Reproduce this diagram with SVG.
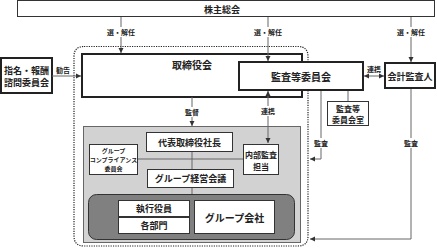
<svg xmlns="http://www.w3.org/2000/svg" width="437" height="248" viewBox="0 0 437 248">
<defs>
<marker id="ah" markerWidth="6" markerHeight="6" refX="5" refY="3" orient="auto" markerUnits="userSpaceOnUse">
<path d="M0,0.5 L5,3 L0,5.5 z" fill="#333"/>
</marker>
<marker id="as" markerWidth="6" markerHeight="6" refX="0" refY="3" orient="auto" markerUnits="userSpaceOnUse">
<path d="M5,0.5 L0,3 L5,5.5 z" fill="#333"/>
</marker>
</defs>
<style>
text{font-family:"Noto Sans CJK JP","Noto Sans",sans-serif;font-weight:bold;fill:#222;text-anchor:middle;dominant-baseline:central}
.box{fill:#fff;stroke:#333;stroke-width:1}
.thick{fill:#fff;stroke:#222;stroke-width:2}
.ln{fill:none;stroke:#666;stroke-width:1}
.lbl{font-size:7px}
.t8{font-size:8px}
.t9{font-size:9px}
.t10{font-size:10px}
</style>
<rect x="0" y="0" width="437" height="248" fill="#fff"/>
<g id="outer-dotted">
<path d="M84,46.5 L298,46.5 Q308,46.5 308,56.5 L308,236 Q308,246 298,246 L84,246 Q74,246 74,236 L74,56.5 Q74,46.5 84,46.5 Z" fill="none" stroke="#222" stroke-width="1.2" stroke-dasharray="1.2,1.2"/>
</g>
<g id="kabunushi"><rect class="box" x="17.5" y="0.5" width="417" height="16"/><text class="t9" x="222" y="9">株主総会</text></g>
<g id="torishimari"><rect class="thick" x="82" y="54" width="220" height="43"/><text class="t10" x="192" y="64">取締役会</text></g>
<g id="shimei"><rect class="thick" x="1" y="58" width="51" height="35"/><text class="t9" x="26.5" y="70">指名・報酬</text><text class="t9" x="26.5" y="82">諮問委員会</text></g>
<g id="gray-area"><rect x="83.5" y="126.5" width="217" height="116" fill="#d2d2d2" stroke="#666"/></g>
<g id="dark-area"><rect x="88.5" y="194.5" width="206" height="45" rx="8" fill="#808080" stroke="#333"/></g>
<g id="connectors">
<line class="ln" x1="121" y1="17" x2="121" y2="53" marker-end="url(#ah)"/>
<line class="ln" x1="268" y1="17" x2="268" y2="61" marker-end="url(#ah)"/>
<line class="ln" x1="411" y1="17" x2="411" y2="62" marker-end="url(#ah)"/>
<line class="ln" x1="52" y1="76" x2="81" y2="76" marker-end="url(#ah)"/>
<line class="ln" x1="192" y1="97" x2="192" y2="126" marker-end="url(#ah)"/>
<line class="ln" x1="268" y1="91" x2="268" y2="143" marker-start="url(#as)" marker-end="url(#ah)"/>
<line class="ln" x1="364" y1="76" x2="384" y2="76" marker-start="url(#as)" marker-end="url(#ah)"/>
<line class="ln" x1="348" y1="90" x2="348" y2="101"/>
<polyline class="ln" points="321,90 321,159 310,159" marker-end="url(#ah)"/>
<polyline class="ln" points="411,88 411,239 310,239" marker-end="url(#ah)"/>
<line class="ln" x1="192" y1="151" x2="192" y2="194"/>
<line class="ln" x1="137" y1="159" x2="243" y2="159"/>
<rect x="105" y="27" width="32" height="10" fill="#fff"/><text class="lbl" x="121" y="32">選・解任</text>
<rect x="252" y="27" width="32" height="10" fill="#fff"/><text class="lbl" x="268" y="32">選・解任</text>
<rect x="395" y="27" width="32" height="10" fill="#fff"/><text class="lbl" x="411" y="32">選・解任</text>
<text class="lbl" x="63" y="70">勧告</text>
<rect x="183" y="107" width="18" height="10" fill="#fff"/><text class="lbl" x="192" y="112">監督</text>
<rect x="259" y="106" width="18" height="10" fill="#fff"/><text class="lbl" x="268" y="111">連携</text>
<text class="lbl" x="374" y="69">連携</text>
<rect x="312" y="138" width="18" height="10" fill="#fff"/><text class="lbl" x="321" y="143">監査</text>
<rect x="402" y="138" width="18" height="10" fill="#fff"/><text class="lbl" x="411" y="143">監査</text>
</g>
<g id="kansa-iinkai"><rect class="thick" x="239" y="62" width="124" height="28"/><text class="t10" x="301" y="76">監査等委員会</text></g>
<g id="kaikei"><rect class="thick" x="385" y="63" width="50" height="25"/><text class="t9" x="410" y="76">会計監査人</text></g>
<g id="kansa-shitsu"><rect class="box" x="327.5" y="101.5" width="41" height="24"/><text class="t8" x="348" y="108">監査等</text><text class="t8" x="348" y="119">委員会室</text></g>
<g id="shacho"><rect class="box" x="146.5" y="132.5" width="86" height="19"/><text class="t9" x="189.5" y="142">代表取締役社長</text></g>
<g id="compliance"><rect class="box" x="89.5" y="144.5" width="48" height="30"/><text font-size="6" x="113.5" y="150">グループ</text><text font-size="6" x="113.5" y="159">コンプライアンス</text><text font-size="6" x="113.5" y="168">委員会</text></g>
<g id="keiei"><rect class="box" x="147.5" y="169.5" width="86" height="18"/><text class="t9" x="190.5" y="178.5">グループ経営会議</text></g>
<g id="naibu"><rect class="box" x="243.5" y="144.5" width="35" height="30"/><text class="t8" x="261" y="154">内部監査</text><text class="t8" x="261" y="166">担当</text></g>
<g id="shikko"><rect class="box" x="118.5" y="200.5" width="71" height="16"/><text class="t9" x="154" y="208.5">執行役員</text></g>
<g id="kakubu"><rect class="box" x="118.5" y="217.5" width="71" height="16"/><text class="t9" x="154" y="225.5">各部門</text></g>
<g id="group"><rect class="box" x="194.5" y="200.5" width="80" height="33"/><text class="t10" x="234.5" y="217">グループ会社</text></g>
</svg>
